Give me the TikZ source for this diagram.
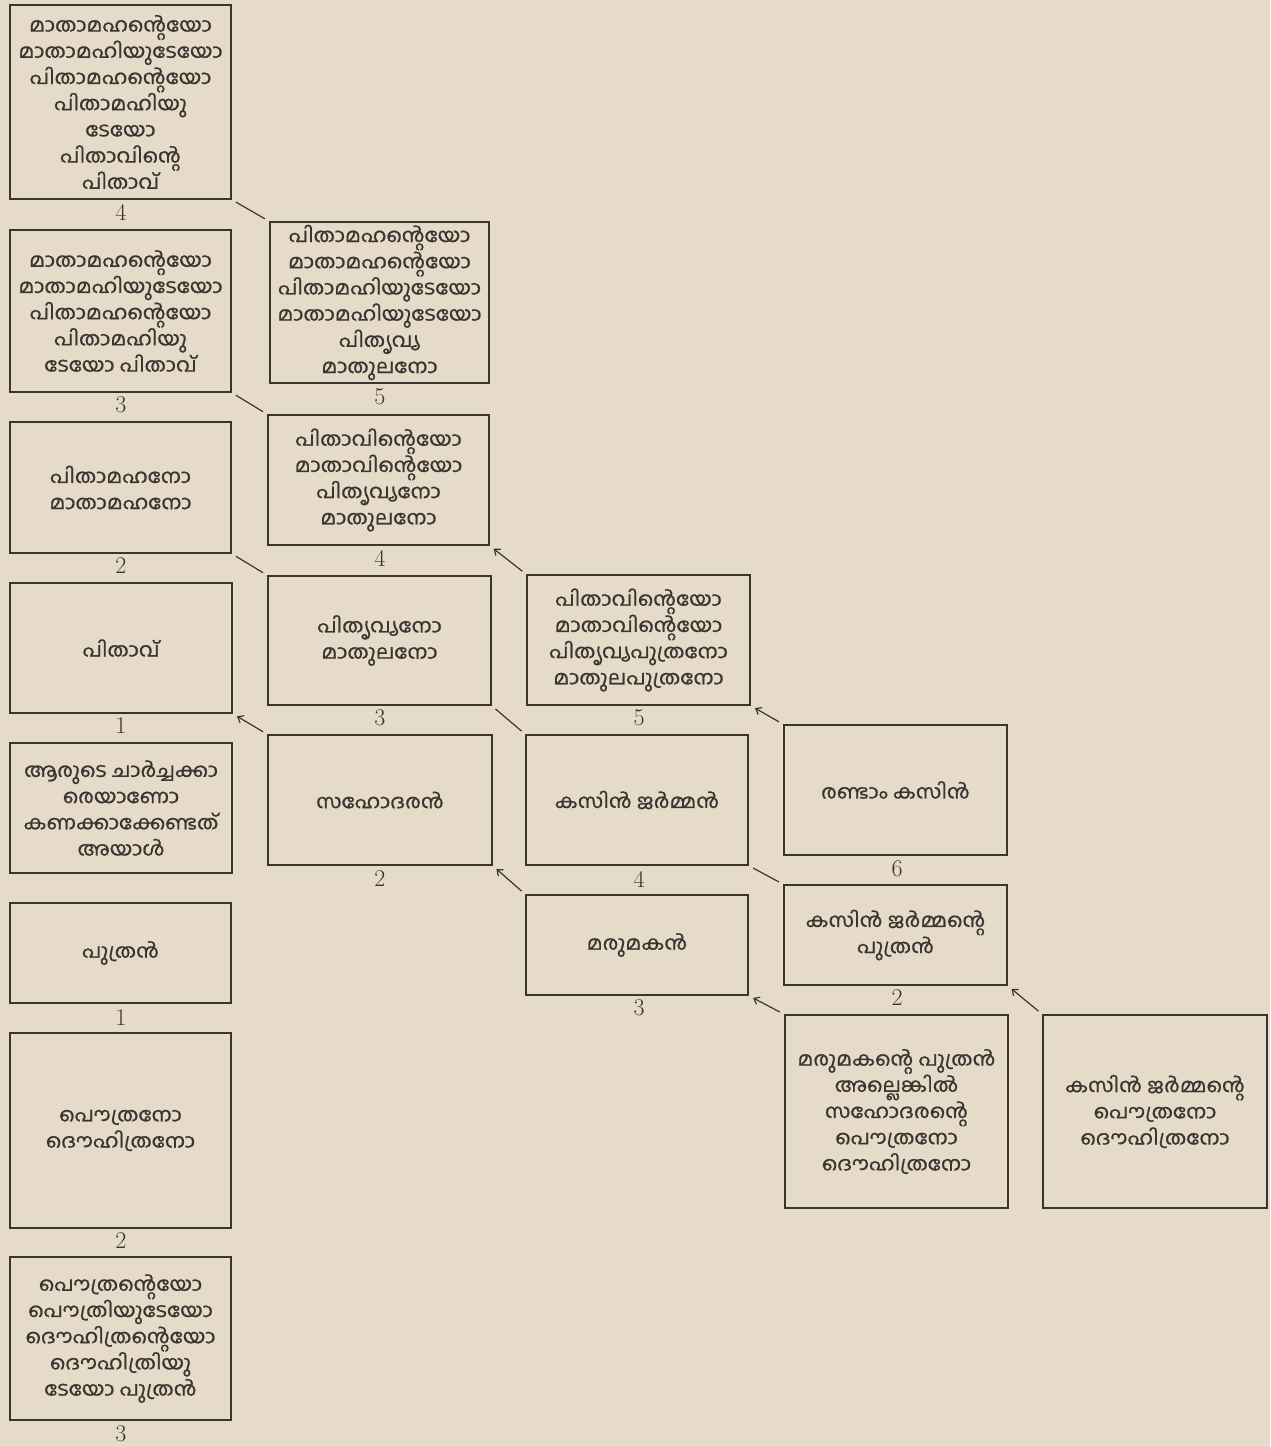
\documentclass[tikz,border=0pt]{standalone}
\usepackage{fontspec}
\newfontfamily\mal[Script=Malayalam,FakeBold=0.8,FakeStretch=1.08]{Hind Kochi}
\usetikzlibrary{arrows.meta}
\definecolor{paper}{RGB}{229,219,200}
\definecolor{ink}{RGB}{58,53,48}
\newcommand\kbox[6]{\node[kb, minimum width={(#4-#2)*1pt}, minimum height={(#5-#3)*1pt}] (#1) at ({(#2+#4)/2},{(#3+#5)/2}) {#6};}
\newcommand\knum[4]{\node[num] (#1) at (#2,#3) {#4};}
\begin{document}
\begin{tikzpicture}[x=1pt,y=-1pt,
  kb/.style={draw=ink, line width=1.3pt, align=center, text=ink, inner sep=0pt,
     font=\mal\fontsize{19.5}{26.2}\selectfont},
  num/.style={text=ink, inner sep=0pt, font=\fontsize{24}{24}\selectfont},
  link/.style={draw=ink, line width=1.2pt, shorten <=5pt, shorten >=5pt},
  back/.style={link, {Straight Barb[length=5pt,width=8pt]}-}
]
\fill[paper] (0,0) rectangle (1270,1447);
\useasboundingbox (0,0) rectangle (1270,1447);
% column 1
\kbox{a4}{10}{5}{231}{199}{മാതാമഹന്റെയോ\\മാതാമഹിയുടേയോ\\പിതാമഹന്റെയോ\\പിതാമഹിയു\\ടേയോ\\പിതാവിന്റെ\\പിതാവ്}
\kbox{a3}{10}{230}{231}{392}{മാതാമഹന്റെയോ\\മാതാമഹിയുടേയോ\\പിതാമഹന്റെയോ\\പിതാമഹിയു\\ടേയോ പിതാവ്}
\kbox{a2}{10}{422}{231}{553}{പിതാമഹനോ\\മാതാമഹനോ}
\kbox{a1}{10}{583}{232}{713}{പിതാവ്}
\kbox{ego}{10}{743}{232}{873}{ആരുടെ ചാർച്ചക്കാ\\രെയാണോ\\കണക്കാക്കേണ്ടത്\\അയാൾ}
\kbox{s1}{10}{903}{231}{1003}{പുത്രൻ}
\kbox{s2}{10}{1033}{231}{1228}{പൌത്രനോ\\ദൌഹിത്രനോ}
\kbox{s3}{10}{1257}{231}{1420}{പൌത്രന്റെയോ\\പൌത്രിയുടേയോ\\ദൌഹിത്രന്റെയോ\\ദൌഹിത്രിയു\\ടേയോ പുത്രൻ}
% column 2
\kbox{b5}{270}{222}{489}{383}{പിതാമഹന്റെയോ\\മാതാമഹന്റെയോ\\പിതാമഹിയുടേയോ\\മാതാമഹിയുടേയോ\\പിതൃവ്യ\\മാതുലനോ}
\kbox{b4}{268}{415}{489}{545}{പിതാവിന്റെയോ\\മാതാവിന്റെയോ\\പിതൃവ്യനോ\\മാതുലനോ}
\kbox{b3}{268}{576}{491}{705}{പിതൃവ്യനോ\\മാതുലനോ}
\kbox{b2}{268}{735}{492}{865}{സഹോദരൻ}
% column 3
\kbox{c5}{527}{575}{750}{705}{പിതാവിന്റെയോ\\മാതാവിന്റെയോ\\പിതൃവ്യപുത്രനോ\\മാതുലപുത്രനോ}
\kbox{c4}{526}{735}{748}{865}{കസിൻ ജർമ്മൻ}
\kbox{c3}{526}{895}{748}{995}{മരുമകൻ}
% column 4
\kbox{d6}{784}{725}{1007}{855}{രണ്ടാം കസിൻ}
\kbox{d2}{784}{885}{1007}{985}{കസിൻ ജർമ്മന്റെ\\പുത്രൻ}
\kbox{d1}{785}{1015}{1008}{1208}{മരുമകന്റെ പുത്രൻ\\അല്ലെങ്കിൽ\\സഹോദരന്റെ\\പൌത്രനോ\\ദൌഹിത്രനോ}
% column 5
\kbox{e1}{1043}{1015}{1267}{1208}{കസിൻ ജർമ്മന്റെ\\പൌത്രനോ\\ദൌഹിത്രനോ}
% numbers
\knum{na4}{121}{212}{4}
\knum{na3}{121}{405}{3}
\knum{na2}{121}{566}{2}
\knum{na1}{121}{726}{1}
\knum{ns1}{121}{1018}{1}
\knum{ns2}{121}{1241}{2}
\knum{ns3}{121}{1434}{3}
\knum{nb5}{380}{397}{5}
\knum{nb4}{380}{558}{4}
\knum{nb3}{380}{718}{3}
\knum{nb2}{380}{879}{2}
\knum{nc5}{639}{718}{5}
\knum{nc4}{639}{879}{4}
\knum{nc3}{639}{1008}{3}
\knum{nd6}{897}{869}{6}
\knum{nd2}{897}{998}{2}
% connectors
\draw[link] (a4.south east) -- (b5.north west);
\draw[link] (a3.south east) -- (b4.north west);
\draw[link] (a2.south east) -- (b3.north west);
\draw[back] (a1.south east) -- (b2.north west);
\draw[back] (b4.south east) -- (c5.north west);
\draw[link] (b3.south east) -- (c4.north west);
\draw[back] (b2.south east) -- (c3.north west);
\draw[back] (c5.south east) -- (d6.north west);
\draw[link] (c4.south east) -- (d2.north west);
\draw[back] (c3.south east) -- (d1.north west);
\draw[back] (d2.south east) -- (e1.north west);
\end{tikzpicture}
\end{document}
